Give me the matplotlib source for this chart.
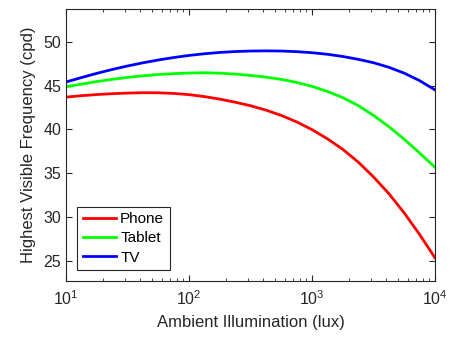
import matplotlib
matplotlib.use('Agg')
import matplotlib.pyplot as plt
from matplotlib.ticker import LogLocator, FixedLocator

plt.rcParams['font.family'] = ['Liberation Sans', 'DejaVu Sans']

# ambient illumination (lux), read at eighth-decade steps from 10 to 10^4
lux = [10 ** (1 + 0.125 * i) for i in range(25)]
phone = [43.68, 43.84, 43.97, 44.07, 44.14, 44.18, 44.17, 44.1, 43.96, 43.74,
         43.45, 43.1, 42.7, 42.2, 41.6, 40.86, 39.98, 38.94, 37.74, 36.3,
         34.6, 32.7, 30.5, 28.05, 25.4]
tablet = [44.85, 45.15, 45.45, 45.7, 45.92, 46.1, 46.25, 46.35, 46.42, 46.45,
          46.4, 46.3, 46.15, 45.95, 45.7, 45.35, 44.9, 44.33, 43.62, 42.72,
          41.6, 40.32, 38.88, 37.32, 35.7]
tv = [45.4, 45.9, 46.38, 46.82, 47.22, 47.58, 47.9, 48.18, 48.42, 48.61,
      48.76, 48.86, 48.92, 48.94, 48.92, 48.85, 48.73, 48.55, 48.3, 47.98,
      47.59, 47.07, 46.4, 45.55, 44.5]

labels = ['Phone', 'Tablet', 'TV']
colors = ['#ff0000', '#00ff00', '#0000ff']
yticks = [25, 30, 35, 40, 45, 50]

fig = plt.figure(figsize=(4.6, 3.41), dpi=100)
ax = fig.add_axes([0.1435, 0.1768, 0.8022, 0.7968])

for series, lab, col in zip([phone, tablet, tv], labels, colors):
    ax.plot(lux, series, color=col, lw=2.0, label=lab)

ax.set_xscale('log')
ax.set_xlim(10, 1e4)
ax.set_ylim(22.8, 53.7)
ax.yaxis.set_major_locator(FixedLocator(yticks))
ax.xaxis.set_major_locator(LogLocator(base=10, numticks=10))
ax.xaxis.set_minor_locator(LogLocator(base=10, subs=range(2, 10), numticks=10))

grey = '#262626'
for s in ax.spines.values():
    s.set_color(grey)
    s.set_linewidth(0.8)
ax.tick_params(which='both', direction='in', top=True, right=True, colors=grey,
               labelsize=11.5, labelcolor=grey)
ax.tick_params(which='major', length=4)
ax.tick_params(which='minor', length=2)
ax.tick_params(axis='x', pad=6)

ax.set_xlabel('Ambient Illumination (lux)', fontsize=12, color=grey, labelpad=5)
ax.set_ylabel('Highest Visible Frequency (cpd)', fontsize=12, color=grey, labelpad=5)

leg = ax.legend(loc='lower left', bbox_to_anchor=(0.031, 0.039), borderaxespad=0,
                fontsize=11, fancybox=False, framealpha=1, edgecolor=grey,
                handlelength=2.2, handletextpad=0.25, labelspacing=0.35,
                borderpad=0.35)
leg.get_frame().set_linewidth(0.8)

plt.savefig('out.png', dpi=100)
